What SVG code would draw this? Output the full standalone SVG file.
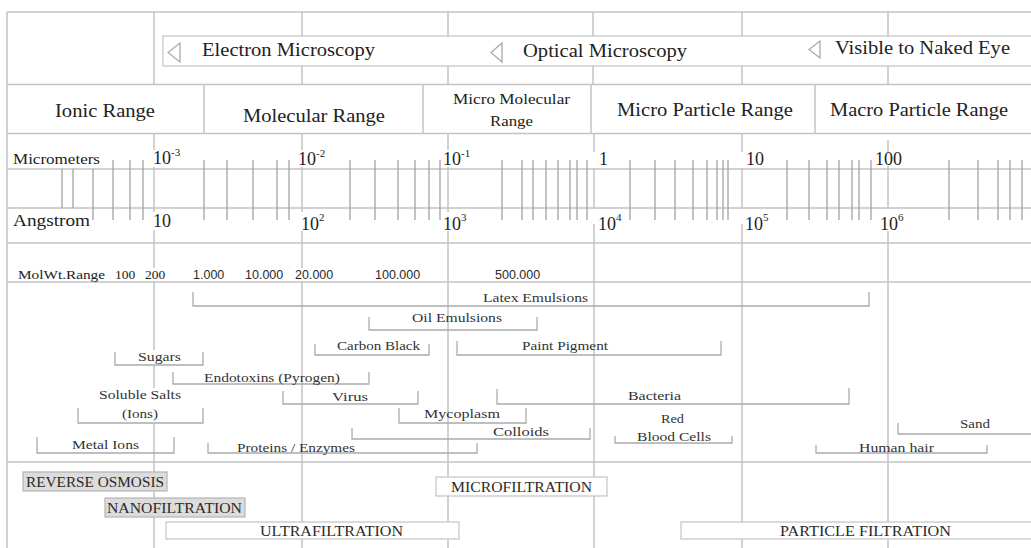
<svg xmlns="http://www.w3.org/2000/svg" width="1031" height="548" viewBox="0 0 1031 548">
<style>
.grid{stroke:#c4c4c4;stroke-width:1.5;fill:none}
.tick{stroke:#a4a4a4;stroke-width:1.3;fill:none}
.br{stroke:#ababab;stroke-width:1.3;fill:none}
.t{font-family:"Liberation Serif",serif;fill:#222}
.big{font-size:18.5px}
.mid{font-size:14.5px}
.num{font-size:18px}
.sup{font-size:11px}
.lab{font-size:13.5px;fill:#333}
.mw{font-family:"Liberation Sans",sans-serif;font-size:12.5px;fill:#2a2a2a}
.f{font-size:14px;fill:#2a2a2a}
.tri{fill:#fff;stroke:#aaa;stroke-width:1.3}
.boxg{fill:#dcdcdc;stroke:#b4b4b4;stroke-width:1.2}
.boxw{fill:#fff;stroke:#c4c4c4;stroke-width:1.2}
</style>
<rect width="1031" height="548" fill="#fff"/>
<g id="grid">
<path class="grid" d="M7 12H1031M7 84.5H1031M7 133.5H1031M7 169H1031M7 208H1031M7 243H1031M7 282H1031M7 462H1031M7 12V548"/>
<path class="grid" d="M154 12V84.5M302 12V84.5M448 12V84.5M593 12V84.5M742 12V84.5M888 12V84.5"/>
<path class="grid" d="M204 84.5V133.5M423 84.5V133.5M591 84.5V133.5M815 84.5V133.5"/>
<path class="grid" d="M154 133.5V150M154 167V212M154 230V268M154 281V350M154 365V388M154 424V548
M302 133.5V150M302 167V212M302 231V268M302 281V548
M448 133.5V150M448 167V212M448 231V548
M594 133.5V152M594 168V208M594 224V548
M742 133.5V152M742 168V208M742 224V548
M888 140V152M888 166V208M888 231V548"/>
</g>
<g id="ticks">
<path class="tick" d="M62 169V208M73 169V208M93 169V220M113 160V220M130 160V220M143 160V220
M204 160V220M227 160V220M253 160V220M277 160V220M289 160V220
M350 160V220M375 160V220M398 160V220M415 160V220M429 160V220M440 160V220
M502 160V220M522 160V220M533 160V220M546 160V220M558 160V220M570 160V220M577 160V220M587 160V220
M630 160V220M655 160V220M675 160V220M693 160V220M707 160V220M717 160V220M723 160V220M728 160V220
M787 160V220M809 160V220M827 160V220M839 160V220M852 160V220M859 160V220M871 160V220
M949 160V220M978 160V220M998 160V220M1010 160V220M1022 160V220"/>
</g>
<g id="microscopy">
<rect class="boxw" x="163" y="36" width="880" height="30"/>
<polygon class="tri" points="168,52.5 180,43 180,62"/>
<polygon class="tri" points="491,52.5 502,43 502,62"/>
<polygon class="tri" points="809,49.5 820,41 820,58"/>
<text class="t big" x="202" y="56" textLength="173" lengthAdjust="spacingAndGlyphs">Electron Microscopy</text>
<text class="t big" x="523" y="57" textLength="164" lengthAdjust="spacingAndGlyphs">Optical Microscopy</text>
<text class="t big" x="835" y="54" textLength="175" lengthAdjust="spacingAndGlyphs">Visible to Naked Eye</text>
</g>
<g id="ranges">
<text class="t big" x="55" y="117" textLength="100" lengthAdjust="spacingAndGlyphs">Ionic Range</text>
<text class="t big" x="243" y="122" textLength="142" lengthAdjust="spacingAndGlyphs">Molecular Range</text>
<text class="t mid" x="453" y="104" textLength="117" lengthAdjust="spacingAndGlyphs">Micro Molecular</text>
<text class="t mid" x="490" y="126" textLength="43" lengthAdjust="spacingAndGlyphs">Range</text>
<text class="t big" x="617" y="116" textLength="176" lengthAdjust="spacingAndGlyphs">Micro Particle Range</text>
<text class="t big" x="830" y="116" textLength="178" lengthAdjust="spacingAndGlyphs">Macro Particle Range</text>
</g>
<g id="micrometers">
<text class="t" x="13" y="164" font-size="15" textLength="87" lengthAdjust="spacingAndGlyphs">Micrometers</text>
<text class="t num" x="153" y="164">10<tspan class="sup" dy="-8">-3</tspan></text>
<text class="t num" x="298" y="165">10<tspan class="sup" dy="-8">-2</tspan></text>
<text class="t num" x="443" y="165">10<tspan class="sup" dy="-8">-1</tspan></text>
<text class="t num" x="599" y="165">1</text>
<text class="t num" x="746" y="165">10</text>
<text class="t num" x="875" y="165">100</text>
</g>
<g id="angstrom">
<text class="t" x="13" y="226" font-size="17" textLength="77" lengthAdjust="spacingAndGlyphs">Angstrom</text>
<text class="t num" x="153" y="227">10</text>
<text class="t num" x="301" y="230">10<tspan class="sup" dy="-9">2</tspan></text>
<text class="t num" x="443" y="230">10<tspan class="sup" dy="-9">3</tspan></text>
<text class="t num" x="598" y="230">10<tspan class="sup" dy="-9">4</tspan></text>
<text class="t num" x="745" y="230">10<tspan class="sup" dy="-9">5</tspan></text>
<text class="t num" x="880" y="230">10<tspan class="sup" dy="-9">6</tspan></text>
</g>
<g id="molwt">
<text class="t" x="18" y="279" font-size="13.5" textLength="87" lengthAdjust="spacingAndGlyphs">MolWt.Range</text>
<text class="t" x="115" y="279" font-size="13.5">100</text>
<text class="t" x="145" y="279" font-size="13.5">200</text>
<text class="mw" x="193" y="279">1.000</text>
<text class="mw" x="245" y="279">10.000</text>
<text class="mw" x="295" y="279">20.000</text>
<text class="mw" x="375" y="279">100.000</text>
<text class="mw" x="495" y="279">500.000</text>
</g>
<g id="latex"><path class="br" d="M193 292V306H869V292"/><text class="t lab" x="483" y="302" textLength="105" lengthAdjust="spacingAndGlyphs">Latex Emulsions</text></g>
<g id="oil"><path class="br" d="M369 317V330H537V317"/><text class="t lab" x="412" y="322" textLength="90" lengthAdjust="spacingAndGlyphs">Oil Emulsions</text></g>
<g id="carbon"><path class="br" d="M315 344V355H429V344"/><text class="t lab" x="337" y="350" textLength="83" lengthAdjust="spacingAndGlyphs">Carbon Black</text></g>
<g id="paint"><path class="br" d="M457 341V355H721V341"/><text class="t lab" x="522" y="350" textLength="86" lengthAdjust="spacingAndGlyphs">Paint Pigment</text></g>
<g id="sugars"><path class="br" d="M115 352V365H203V352"/><text class="t lab" x="138" y="361" textLength="43" lengthAdjust="spacingAndGlyphs">Sugars</text></g>
<g id="endotoxins"><path class="br" d="M173 372V384H369V372"/><text class="t lab" x="204" y="382" textLength="136" lengthAdjust="spacingAndGlyphs">Endotoxins (Pyrogen)</text></g>
<g id="salts"><path class="br" d="M78 408V423H203V408"/><text class="t lab" x="99" y="399" textLength="82" lengthAdjust="spacingAndGlyphs">Soluble Salts</text><text class="t lab" x="122" y="418" textLength="36" lengthAdjust="spacingAndGlyphs">(Ions)</text></g>
<g id="virus"><path class="br" d="M283 391V404H418V391"/><text class="t lab" x="332" y="401" textLength="36" lengthAdjust="spacingAndGlyphs">Virus</text></g>
<g id="bacteria"><path class="br" d="M497 389V404H849V388"/><text class="t lab" x="628" y="400" textLength="53" lengthAdjust="spacingAndGlyphs">Bacteria</text></g>
<g id="mycoplasm"><path class="br" d="M399 408V423H526V408"/><text class="t lab" x="424" y="418" textLength="76" lengthAdjust="spacingAndGlyphs">Mycoplasm</text></g>
<g id="colloids"><path class="br" d="M352 428V439H590V428"/><text class="t lab" x="493" y="436" textLength="56" lengthAdjust="spacingAndGlyphs">Colloids</text></g>
<g id="rbc"><path class="br" d="M615 436V443H732V436"/><text class="t lab" x="661" y="423" textLength="23" lengthAdjust="spacingAndGlyphs">Red</text><text class="t lab" x="637" y="441" textLength="74" lengthAdjust="spacingAndGlyphs">Blood Cells</text></g>
<g id="sand"><path class="br" d="M898 423V434H1040"/><text class="t lab" x="960" y="428" textLength="30" lengthAdjust="spacingAndGlyphs">Sand</text></g>
<g id="metal"><path class="br" d="M37 437V453H174V437"/><text class="t lab" x="72" y="449" textLength="67" lengthAdjust="spacingAndGlyphs">Metal Ions</text></g>
<g id="proteins"><path class="br" d="M208 443V453H477V443"/><text class="t lab" x="237" y="452" textLength="118" lengthAdjust="spacingAndGlyphs">Proteins / Enzymes</text></g>
<g id="hair"><path class="br" d="M816 445V453H987V445"/><text class="t lab" x="859" y="452" textLength="75" lengthAdjust="spacingAndGlyphs">Human hair</text></g>
<g id="ro"><rect class="boxg" x="23" y="472" width="144" height="19"/><text class="t f" x="26" y="486.5" textLength="138" lengthAdjust="spacingAndGlyphs">REVERSE OSMOSIS</text></g>
<g id="nf"><rect class="boxg" x="105" y="498" width="140" height="19"/><text class="t f" x="107" y="512.5" textLength="135" lengthAdjust="spacingAndGlyphs">NANOFILTRATION</text></g>
<g id="mf"><rect class="boxw" x="436" y="477" width="171" height="19"/><text class="t f" x="451" y="492" textLength="141" lengthAdjust="spacingAndGlyphs">MICROFILTRATION</text></g>
<g id="uf"><rect class="boxw" x="166" y="522" width="293" height="17"/><text class="t f" x="260" y="536" textLength="143" lengthAdjust="spacingAndGlyphs">ULTRAFILTRATION</text></g>
<g id="pf"><rect class="boxw" x="681" y="522" width="360" height="17"/><text class="t f" x="780" y="536" textLength="171" lengthAdjust="spacingAndGlyphs">PARTICLE FILTRATION</text></g>
<g id="connectors"></g>
</svg>
